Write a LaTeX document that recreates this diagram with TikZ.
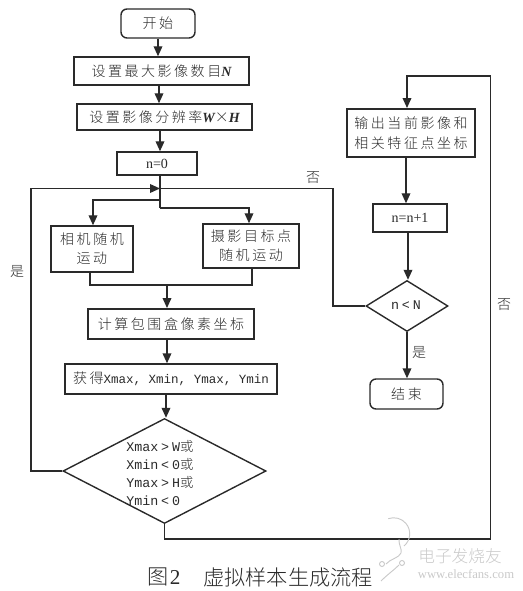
\documentclass[tikz,border=0pt]{standalone}
\usepackage{fontspec}
\usetikzlibrary{arrows.meta,shapes.geometric,calc}
\setmainfont{Liberation Serif}
\newfontfamily\cjk[LetterSpace=18]{Noto Sans CJK SC Light}
\newfontfamily\cjkplain{Noto Sans CJK SC Light}
\newfontfamily\cmono{Liberation Mono}
\newcommand{\bi}[1]{{\rmfamily\bfseries\itshape #1}}
\newcommand{\opsp}[1]{\hspace{2.2pt}#1\hspace{2.2pt}}
\definecolor{ink}{HTML}{2A2A2A}
\definecolor{wm}{HTML}{C9C9C9}
\tikzset{
  wh/.style 2 args={minimum width=#1*0.75pt,minimum height=#2*0.75pt},
  box/.style={draw=ink,line width=1.05pt,rectangle,inner sep=0pt,align=center,text=ink,font=\cjk\fontsize{10.5}{14.5}\selectfont},
  thick box/.style={box,line width=1.45pt},
  term/.style={box,rounded corners=4.5pt},
  dec/.style={draw=ink,line width=1.05pt,diamond,inner sep=0pt,text=ink},
  line/.style={draw=ink,line width=1.05pt},
  arr/.style={line,-{Triangle[length=7.5pt,width=6.5pt]}},
  lab/.style={inner sep=0pt,text=ink,font=\cjk\fontsize{10.5}{12}\selectfont},
  mono/.style={inner sep=0pt,text=ink,align=left,font=\cmono\fontsize{10}{13.5}\selectfont},
}
\begin{document}
\begin{tikzpicture}[x=0.75pt,y=-0.75pt]
\useasboundingbox (0,0) rectangle (522,591);
% nodes
\node[term,wh={74}{29}] (start) at (158,23.5) {开始};
\node[box,wh={175}{28}] (setn) at (161.5,71) {设置最大影像数目\bi{N}};
\node[box,wh={175}{26}] (setwh) at (164.5,117) {设置影像分辨率\bi{W}×\bi{H}};
\node[box,wh={80}{23}] (n0) at (157,163.5) {{\rmfamily n=0}};
\coordinate (jn) at (160,188.5);
\node[box,wh={82}{46}] (cam) at (92,249) {相机随机\\运动};
\node[box,wh={96}{44}] (tgt) at (251,246) {摄影目标点\\随机运动};
\node[thick box,wh={166}{30}] (calc) at (171,324) {计算包围盒像素坐标};
\node[box,wh={212}{30}] (get) at (171,379) {获得{\cmono\fontsize{9.4}{12}\selectfont Xmax, Xmin, Ymax, Ymin}};
\node[dec,wh={203}{105}] (dia) at (164.5,471) {};
\node[mono,anchor=west] (diatxt) at (126,473) {Xmax\opsp{>}W{\cjkplain 或}\\Xmin\opsp{<}0{\cjkplain 或}\\Ymax\opsp{>}H{\cjkplain 或}\\Ymin\opsp{<}0};
\node[thick box,wh={128}{48}] (out) at (411,133) {输出当前影像和\\相关特征点坐标};
\node[box,wh={74}{28}] (inc) at (410,218) {{\rmfamily n=n+1}};
\node[dec,wh={82}{51}] (dn) at (407,306) {};
\node[mono] (dntxt) at (406,305) {n\opsp{<}N};
\node[term,wh={73}{30}] (fin) at (406.5,394) {结束};
% labels
\node[lab] (no1) at (313,178) {否};
\node[lab] (yes1) at (17,272) {是};
\node[lab] (yes2) at (419,352) {是};
\node[lab] (no2) at (504,305) {否};
\node[inner sep=0pt,text=ink,font=\fontsize{15.9}{18}\selectfont,anchor=west] (cap1) at (147,577) {{\cjkplain 图}\hspace{1pt}2};
\node[inner sep=0pt,text=ink,font=\cjkplain\fontsize{15.9}{18}\selectfont,anchor=west] (cap2) at (203,577) {虚拟样本生成流程};
% connectors: main column
\draw[arr] (start.south) -- (start.south |- setn.north);
\draw[arr] (159,0 |- setn.south) -- (159,0 |- setwh.north);
\draw[arr] (160,0 |- setwh.south) -- (160,0 |- n0.north);
\coordinate (bl) at (160,200);
\coordinate (br) at (160,208);
\draw[line] (160,0 |- n0.south) -- (br);
\draw[arr] (bl) -| (93,0 |- cam.north);
\draw[arr] (br) -| (249,0 |- tgt.north);
\coordinate (mg) at (167,285);
\draw[line] (90,0 |- cam.south) |- (mg) -| (252,0 |- tgt.south);
\draw[arr] (mg) -- (mg |- calc.north);
\draw[arr] (167,0 |- calc.south) -- (167,0 |- get.north);
\draw[arr] (166,0 |- get.south) -- (166,0 |- dia.north);
% yes loop
\coordinate (ly) at (31,188.5);
\draw[arr] (dia.west) -| (ly) -- (jn);
% no to right
\coordinate (bot) at (490.5,539);
\coordinate (top) at (490.5,76);
\coordinate (topl) at (407,76);
\draw[arr] (dia.south) |- (bot) -- (top) -- (topl) -- (topl |- out.north);
% right column
\draw[arr] (406,0 |- out.south) -- (406,0 |- inc.north);
\draw[arr] (408,0 |- inc.south) -- (408,0 |- dn.north);
\draw[arr] (dn.south) -- (dn.south |- fin.north);
\coordinate (nb) at (333,306);
\coordinate (nt) at (333,188.5);
\draw[line] (dn.west) -- (nb) -- (nt) -- (jn);
% watermark
\node[inner sep=0pt,text=wm,font=\cjkplain\itshape\fontsize{12.5}{14}\selectfont] (wm1) at (460,556) {电子发烧友};
\node[inner sep=0pt,text=wm,font=\rmfamily\fontsize{9.5}{11}\selectfont] (wm2) at (466,574) {www.elecfans.com};
\draw[wm,line width=0.7pt] (399,539) .. controls (399,547) and (402,548) .. (401,553) .. controls (399,558) and (390,559) .. (386,564);
\draw[wm,line width=0.7pt] (404,546) arc (50:-110:16);
\draw[wm,line width=0.7pt] (382,564) circle (2.5) (402,563) circle (2.5);
\draw[wm,line width=0.7pt] (399,565) .. controls (394,570) and (388,574) .. (381,581);
\end{tikzpicture}
\end{document}
